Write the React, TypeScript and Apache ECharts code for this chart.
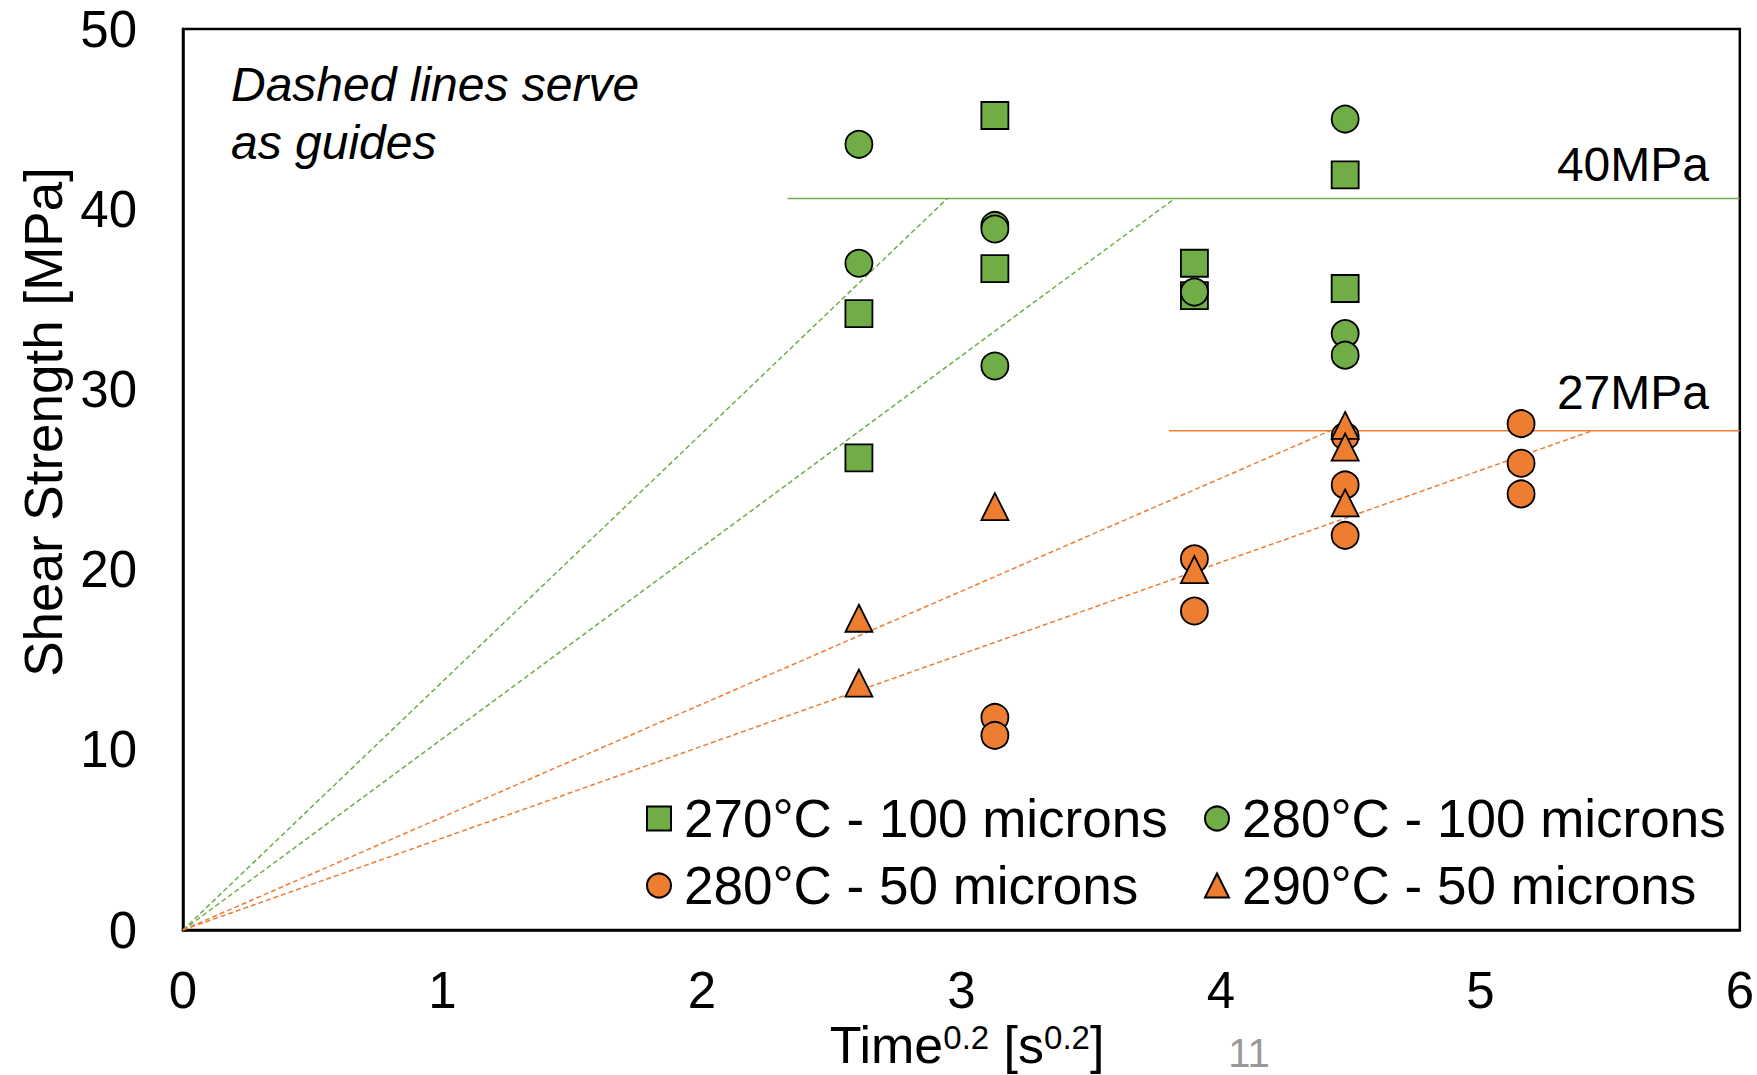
import React, { useEffect, useRef } from "react";
import * as echarts from "echarts";

// x values are Time^0.2 for 120 s, 300 s, 900 s, 1800 s, 3600 s
const s270_100: number[][] = [
  [2.605, 34.2], [2.605, 26.2], [3.129, 45.2], [3.129, 36.7],
  [3.898, 37.0], [3.898, 35.2], [4.479, 41.9], [4.479, 35.6],
];
const s280_100: number[][] = [
  [2.605, 43.6], [2.605, 37.0], [3.129, 39.1], [3.129, 38.9], [3.129, 31.3],
  [3.898, 35.4], [4.479, 45.0], [4.479, 33.1], [4.479, 31.9],
];
const s280_50: number[][] = [
  [3.129, 11.8], [3.129, 10.8], [3.898, 20.6], [3.898, 17.7],
  [4.479, 27.4], [4.479, 24.7], [4.479, 21.9],
  [5.157, 28.1], [5.157, 25.9], [5.157, 24.2],
];
const s290_50: number[][] = [
  [2.605, 17.3], [2.605, 13.7], [3.129, 23.5], [3.898, 20.0],
  [4.479, 28.0], [4.479, 26.8], [4.479, 23.7],
];

// guide lines
const guideGreenA: number[][] = [[0, 0], [2.946, 40.6]];
const guideGreenB: number[][] = [[0, 0], [3.823, 40.6]];
const guideOrangeA: number[][] = [[0, 0], [4.42, 27.7]];
const guideOrangeB: number[][] = [[0, 0], [5.43, 27.7]];
const level40: number[][] = [[2.33, 40.6], [6, 40.6]];
const level27: number[][] = [[3.8, 27.7], [6, 27.7]];

const seriesNames = [
  "270°C - 100 microns",
  "280°C - 100 microns",
  "280°C - 50 microns",
  "290°C - 50 microns",
];

const GREEN = "#70AD47";
const ORANGE = "#ED7D31";
const FONT = "'Liberation Sans', Arial, sans-serif";

export default function App() {
  const ref = useRef<HTMLDivElement>(null);

  useEffect(() => {
    if (!ref.current) return;
    const chart = echarts.init(ref.current, null, { renderer: "svg" });

    const dashed = (data: number[][], color: string) => ({
      type: "line",
      data,
      symbol: "none",
      silent: true,
      z: 1,
      lineStyle: { color, width: 1.5, type: [5, 3] },
    });
    const solid = (data: number[][], color: string) => ({
      type: "line",
      data,
      symbol: "none",
      silent: true,
      z: 1,
      lineStyle: { color, width: 1.5, type: "solid" },
    });
    const scatter = (name: string, data: number[][], symbol: string, color: string) => ({
      type: "scatter",
      name,
      data,
      symbol,
      symbolSize: 27,
      z: 3,
      itemStyle: { color, borderColor: "#000", borderWidth: 1.8, opacity: 1 },
    });

    const legendItem = (name: string, left: number, top: number) => ({
      data: [name],
      left,
      top,
      padding: 0,
      itemWidth: 24,
      itemHeight: 24,
      selectedMode: false,
      textStyle: {
        fontSize: 53,
        fontFamily: FONT,
        color: "#000",
        padding: [0, 0, 0, 8],
      },
    });

    chart.setOption({
      animation: false,
      backgroundColor: "#fff",
      grid: {
        left: 183,
        top: 29,
        width: 1560,
        height: 901,
        show: true,
        borderColor: "#000",
        borderWidth: 2.5,
        containLabel: false,
      },
      xAxis: {
        type: "value",
        min: 0,
        max: 6,
        interval: 1,
        axisLine: { show: true, onZero: false, lineStyle: { color: "#000", width: 2.5 } },
        axisTick: { show: false },
        splitLine: { show: false },
        axisLabel: { fontSize: 51, fontFamily: FONT, color: "#000", margin: 35 },
      },
      yAxis: {
        type: "value",
        min: 0,
        max: 50,
        interval: 10,
        axisLine: { show: true, onZero: false, lineStyle: { color: "#000", width: 2.5 } },
        axisTick: { show: false },
        splitLine: { show: false },
        axisLabel: { fontSize: 51, fontFamily: FONT, color: "#000", margin: 46 },
      },
      legend: [
        legendItem(seriesNames[0], 646, 792),
        legendItem(seriesNames[1], 1204, 792),
        legendItem(seriesNames[2], 646, 859),
        legendItem(seriesNames[3], 1204, 859),
      ],
      series: [
        dashed(guideGreenA, GREEN),
        dashed(guideGreenB, GREEN),
        dashed(guideOrangeA, ORANGE),
        dashed(guideOrangeB, ORANGE),
        solid(level40, GREEN),
        solid(level27, ORANGE),
        scatter(seriesNames[0], s270_100, "rect", GREEN),
        scatter(seriesNames[1], s280_100, "circle", GREEN),
        scatter(seriesNames[2], s280_50, "circle", ORANGE),
        scatter(seriesNames[3], s290_50, "triangle", ORANGE),
      ],
      graphic: [
        {
          type: "text",
          x: 231,
          y: 55,
          style: {
            text: "Dashed lines serve\nas guides",
            fontSize: 48,
            fontStyle: "italic",
            fontFamily: FONT,
            fill: "#000",
            lineHeight: 58,
            align: "left",
            verticalAlign: "top",
          },
        },
        {
          type: "text",
          x: 1709,
          y: 164,
          style: {
            text: "40MPa",
            fontSize: 48,
            fontFamily: FONT,
            fill: "#000",
            align: "right",
            verticalAlign: "middle",
          },
        },
        {
          type: "text",
          x: 1709,
          y: 392,
          style: {
            text: "27MPa",
            fontSize: 48,
            fontFamily: FONT,
            fill: "#000",
            align: "right",
            verticalAlign: "middle",
          },
        },
        {
          type: "text",
          x: 43,
          y: 422,
          rotation: Math.PI / 2,
          style: {
            text: "Shear Strength [MPa]",
            fontSize: 53,
            fontFamily: FONT,
            fill: "#000",
            align: "center",
            verticalAlign: "middle",
          },
        },
        {
          type: "text",
          x: 967,
          y: 1046,
          style: {
            text: "{a|Time}{s|0.2}{a| [s}{s|0.2}{a|]}",
            align: "center",
            verticalAlign: "middle",
            rich: {
              a: { fontSize: 52, fontFamily: FONT, fill: "#000", lineHeight: 50, verticalAlign: "bottom" },
              s: { fontSize: 33, fontFamily: FONT, fill: "#000", lineHeight: 30, verticalAlign: "top" },
            },
          },
        },
        {
          type: "text",
          x: 1249,
          y: 1053,
          style: {
            text: "11",
            fontSize: 40,
            fontFamily: FONT,
            fill: "#999999",
            align: "center",
            verticalAlign: "middle",
          },
        },
      ],
    });

    return () => {
      chart.dispose();
    };
  }, []);

  return (
    <div
      ref={ref}
      style={{ position: "absolute", left: 0, top: 0, width: 1757, height: 1075 }}
    />
  );
}
